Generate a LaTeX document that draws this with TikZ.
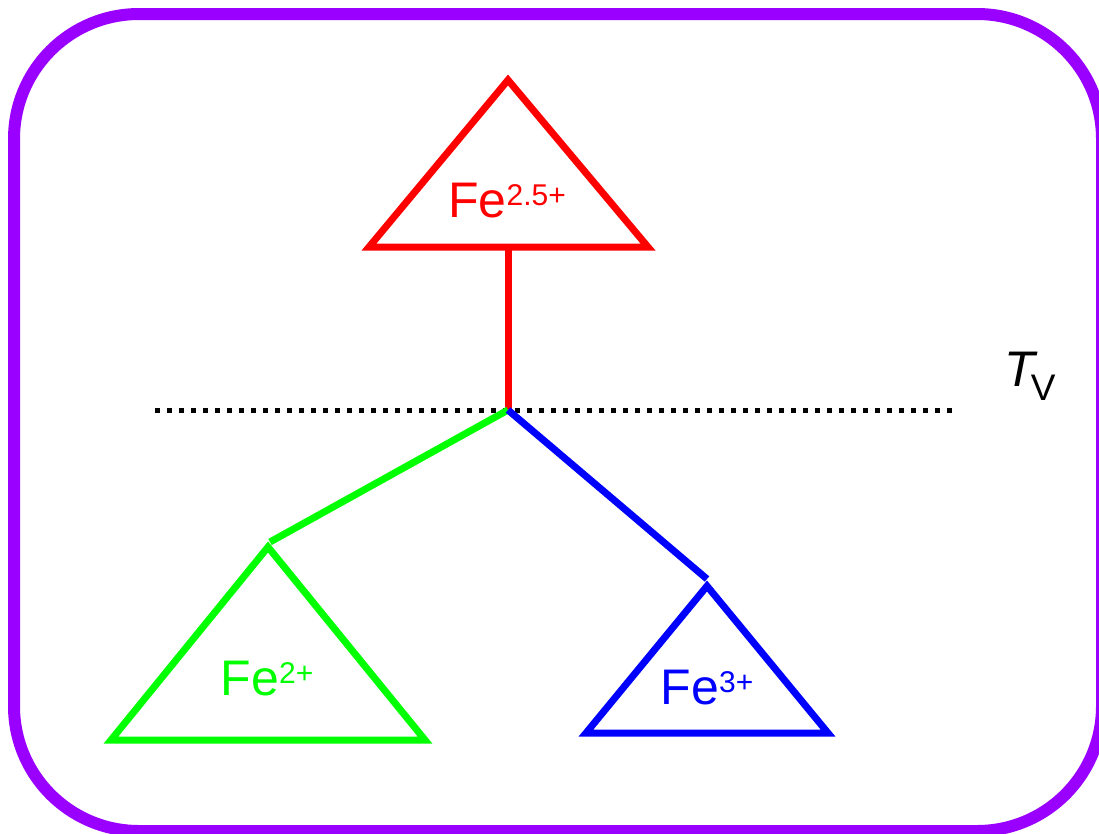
\documentclass[tikz,border=0pt]{standalone}
\usepackage{fontspec}
\setmainfont{Liberation Sans}
\definecolor{framepurple}{HTML}{9900FF}
\definecolor{fered}{HTML}{FF0000}
\definecolor{fegreen}{HTML}{00FF00}
\definecolor{feblue}{HTML}{0000FF}
\newcommand\feion[1]{Fe\raisebox{12pt}{\fontsize{30}{34}\selectfont #1}}
\begin{document}
\begin{tikzpicture}[x=1pt,y=-1pt,
  tri/.style={line width=7pt, line join=miter},
  conn/.style={line width=7pt},
  lbl/.style={inner sep=0pt, anchor=base, font=\fontsize{50}{60}\selectfont},
  frame/.style={line width=12pt, draw=framepurple, rounded corners=125pt},
  tline/.style={line width=5pt, dash pattern=on 5pt off 7pt, black}]
\useasboundingbox (0,0) rectangle (1099,833);
\clip (0,0) rectangle (1099,833);
\draw[frame] (14,14) rectangle (1102,831);
% dotted transition line
\coordinate (dl) at (155,410);
\coordinate (dr) at (955,410);
\draw[tline] (dl) -- (dr);
\node[inner sep=0pt, anchor=base west, font=\fontsize{50}{60}\selectfont] (tv) at (1004,386)
  {\itshape T\kern-4pt\raisebox{-14pt}{\upshape\fontsize{37}{40}\selectfont V}};
% junction
\coordinate (j) at (508,410);
% red triangle
\coordinate (ra) at (508,80);
\coordinate (rl) at (369,247);
\coordinate (rr) at (648,247);
\coordinate (rb) at (508,247);
\draw[tri, fered] (ra) -- (rr) -- (rl) -- cycle;
\node[lbl, text=fered] (fe25) at (507,217) {\feion{2.5+}};
\draw[conn, fered] (rb) -- (j);
% green triangle
\coordinate (ga) at (268,547);
\coordinate (gl) at (111,740);
\coordinate (gr) at (425,740);
\draw[tri, fegreen] (ga) -- (gr) -- (gl) -- cycle;
\node[lbl, text=fegreen] (fe2) at (267,695) {\feion{2+}};
\coordinate (gt) at (270,542);
\draw[conn, fegreen] (j) -- (gt);
% blue triangle
\coordinate (ba) at (707,586);
\coordinate (bl) at (586,733);
\coordinate (br) at (828,733);
\draw[tri, feblue] (ba) -- (br) -- (bl) -- cycle;
\node[lbl, text=feblue] (fe3) at (707,704) {\feion{3+}};
\coordinate (bt) at (707,579);
\draw[conn, feblue] (j) -- (bt);
\end{tikzpicture}
\end{document}
